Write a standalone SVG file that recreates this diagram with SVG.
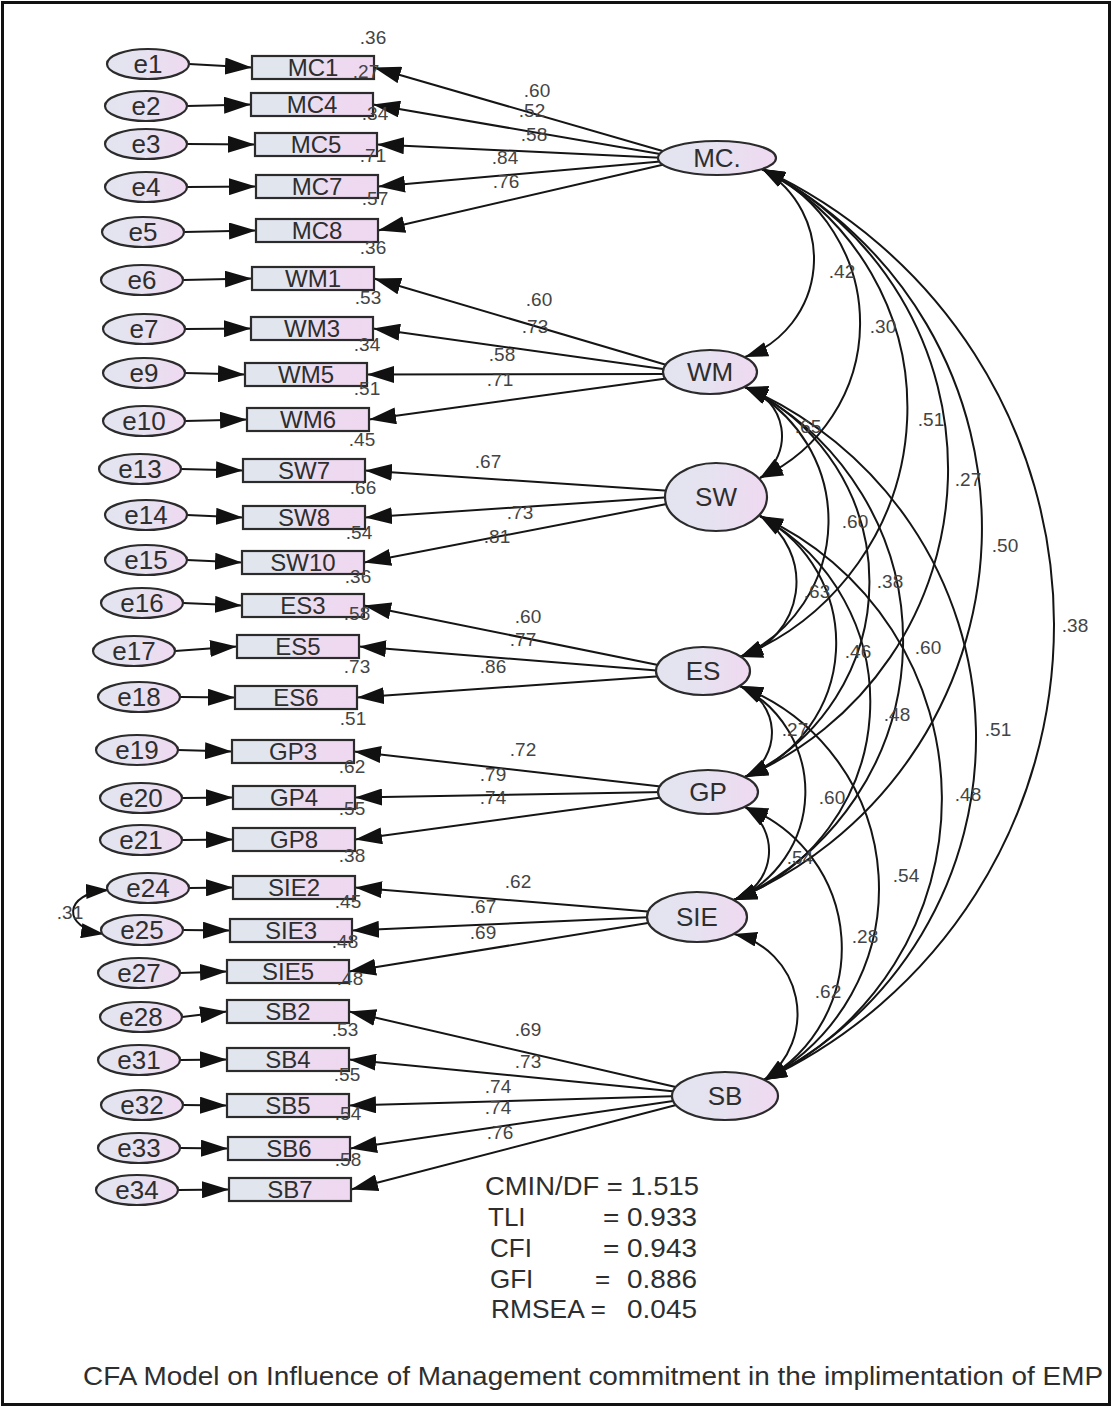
<svg xmlns="http://www.w3.org/2000/svg" width="1114" height="1408" viewBox="0 0 1114 1408">
<defs>
<linearGradient id="gR" x1="0" y1="0" x2="1" y2="0">
<stop offset="0" stop-color="#e1e5ee"/><stop offset="0.35" stop-color="#e1e5ee"/><stop offset="0.6" stop-color="#eddaf0"/><stop offset="1" stop-color="#efd8f1"/>
</linearGradient>
<linearGradient id="gE" x1="0" y1="0" x2="1" y2="0">
<stop offset="0" stop-color="#e3e4f0"/><stop offset="0.45" stop-color="#e6e2f0"/><stop offset="1" stop-color="#efd9f1"/>
</linearGradient>
<marker id="ah" markerUnits="userSpaceOnUse" markerWidth="27" markerHeight="17" refX="27" refY="8.5" orient="auto-start-reverse" viewBox="0 0 27 17">
<path d="M0,0 L27,8.5 L0,17 Z" fill="#111"/>
</marker>
<marker id="ahc" markerUnits="userSpaceOnUse" markerWidth="23" markerHeight="15" refX="23" refY="7.5" orient="auto-start-reverse" viewBox="0 0 23 15">
<path d="M0,0 L23,7.5 L0,15 Z" fill="#111"/>
</marker>
<style>
.obs{fill:url(#gR);stroke:#2b2b2b;stroke-width:2.2}
.ell{fill:url(#gE);stroke:#2b2b2b;stroke-width:2.2}
.ln{stroke:#151515;stroke-width:2;fill:none;marker-end:url(#ah)}
.cov{stroke:#151515;stroke-width:2;fill:none;marker-start:url(#ahc);marker-end:url(#ahc)}
text{font-family:"Liberation Sans",Arial,sans-serif;fill:#333}
.to{font-size:24px;text-anchor:middle;fill:#2e2e2e}
.te{font-size:26px;text-anchor:middle;fill:#2e2e2e}
.tl{font-size:26px;text-anchor:middle;fill:#2e2e2e}
.n{font-size:19px;text-anchor:middle;fill:#444}
.st{font-size:26px;fill:#2e2e2e}
.ti{font-size:25px;fill:#2e2e2e}
</style>
</defs>
<rect x="0" y="0" width="1114" height="1408" fill="#fff"/>
<rect x="2.5" y="2.5" width="1107" height="1402" fill="none" stroke="#111" stroke-width="3"/>

<g id="connectors">
<line class="ln" x1="189" y1="64" x2="252" y2="67.5"/>
<line class="ln" x1="187" y1="106" x2="251" y2="104.5"/>
<line class="ln" x1="187" y1="144" x2="255" y2="144.5"/>
<line class="ln" x1="187" y1="187" x2="256" y2="186.5"/>
<line class="ln" x1="184" y1="232" x2="256" y2="230.5"/>
<line class="ln" x1="183" y1="280" x2="252" y2="278.5"/>
<line class="ln" x1="185" y1="329" x2="251" y2="328.5"/>
<line class="ln" x1="185" y1="373" x2="245" y2="374.5"/>
<line class="ln" x1="185" y1="421" x2="247" y2="419.5"/>
<line class="ln" x1="181" y1="469" x2="243" y2="470.5"/>
<line class="ln" x1="187" y1="515" x2="243" y2="517.5"/>
<line class="ln" x1="187" y1="560" x2="242" y2="562.5"/>
<line class="ln" x1="183" y1="603" x2="242" y2="605.5"/>
<line class="ln" x1="175" y1="651" x2="237" y2="646.5"/>
<line class="ln" x1="180" y1="697" x2="235" y2="697.5"/>
<line class="ln" x1="178" y1="750" x2="232" y2="751.5"/>
<line class="ln" x1="182" y1="798" x2="233" y2="797.5"/>
<line class="ln" x1="182" y1="840" x2="233" y2="839.5"/>
<line class="ln" x1="189" y1="888" x2="233" y2="887.5"/>
<line class="ln" x1="183" y1="930" x2="230" y2="930.5"/>
<line class="ln" x1="180" y1="973" x2="227" y2="971.5"/>
<line class="ln" x1="182" y1="1017" x2="227" y2="1011.5"/>
<line class="ln" x1="180" y1="1060" x2="227" y2="1059.5"/>
<line class="ln" x1="183" y1="1105" x2="227" y2="1105.5"/>
<line class="ln" x1="180" y1="1148" x2="228" y2="1148.5"/>
<line class="ln" x1="178" y1="1190" x2="229" y2="1189.5"/>
<line class="ln" x1="666" y1="152" x2="374" y2="67.5"/>
<line class="ln" x1="666" y1="155" x2="373" y2="104.5"/>
<line class="ln" x1="666" y1="158" x2="377" y2="144.5"/>
<line class="ln" x1="666" y1="161" x2="378" y2="186.5"/>
<line class="ln" x1="666" y1="164" x2="378" y2="230.5"/>
<line class="ln" x1="670" y1="366" x2="374" y2="278.5"/>
<line class="ln" x1="670" y1="370" x2="373" y2="328.5"/>
<line class="ln" x1="670" y1="374" x2="367" y2="374.5"/>
<line class="ln" x1="670" y1="378" x2="369" y2="419.5"/>
<line class="ln" x1="672" y1="491" x2="365" y2="470.5"/>
<line class="ln" x1="672" y1="497" x2="365" y2="517.5"/>
<line class="ln" x1="672" y1="503" x2="364" y2="562.5"/>
<line class="ln" x1="663" y1="666" x2="364" y2="605.5"/>
<line class="ln" x1="663" y1="671" x2="359" y2="646.5"/>
<line class="ln" x1="663" y1="676" x2="357" y2="697.5"/>
<line class="ln" x1="665" y1="787" x2="354" y2="751.5"/>
<line class="ln" x1="665" y1="792" x2="355" y2="797.5"/>
<line class="ln" x1="665" y1="797" x2="355" y2="839.5"/>
<line class="ln" x1="654" y1="912" x2="355" y2="887.5"/>
<line class="ln" x1="654" y1="917" x2="352" y2="930.5"/>
<line class="ln" x1="654" y1="922" x2="349" y2="971.5"/>
<line class="ln" x1="680" y1="1088" x2="349" y2="1011.5"/>
<line class="ln" x1="680" y1="1092" x2="349" y2="1059.5"/>
<line class="ln" x1="680" y1="1096" x2="349" y2="1105.5"/>
<line class="ln" x1="680" y1="1100" x2="350" y2="1148.5"/>
<line class="ln" x1="680" y1="1104" x2="351" y2="1189.5"/>
<path class="cov" d="M762,169 A104,104 0 0 1 745,357"/>
<path class="cov" d="M762,169 A170,170 0 0 1 760,478"/>
<path class="cov" d="M762,169 A269,269 0 0 1 740,657"/>
<path class="cov" d="M762,169 A335,335 0 0 1 745,777"/>
<path class="cov" d="M762,169 A403,403 0 0 1 734,900"/>
<path class="cov" d="M762,169 A502,502 0 0 1 764,1080"/>
<path class="cov" d="M745,387 A51,51 0 0 1 760,478"/>
<path class="cov" d="M745,387 A149,149 0 0 1 740,657"/>
<path class="cov" d="M745,387 A215,215 0 0 1 745,777"/>
<path class="cov" d="M745,387 A283,283 0 0 1 734,900"/>
<path class="cov" d="M745,387 A382,382 0 0 1 764,1080"/>
<path class="cov" d="M760,516 A78,78 0 0 1 740,657"/>
<path class="cov" d="M760,516 A144,144 0 0 1 745,777"/>
<path class="cov" d="M760,516 A212,212 0 0 1 734,900"/>
<path class="cov" d="M760,516 A311,311 0 0 1 764,1080"/>
<path class="cov" d="M740,686 A50,50 0 0 1 745,777"/>
<path class="cov" d="M740,686 A118,118 0 0 1 734,900"/>
<path class="cov" d="M740,686 A217,217 0 0 1 764,1080"/>
<path class="cov" d="M745,807 A52,52 0 0 1 734,900"/>
<path class="cov" d="M745,807 A151,151 0 0 1 764,1080"/>
<path class="cov" d="M734,934 A82,82 0 0 1 764,1080"/>
<path class="cov" d="M109,890 C62,893 62,928 104,934"/>
</g>

<g id="e1"><ellipse class="ell" cx="148" cy="64" rx="41" ry="15"/><text class="te" x="148" y="73">e1</text></g>
<g id="e2"><ellipse class="ell" cx="146" cy="106" rx="41" ry="15"/><text class="te" x="146" y="115">e2</text></g>
<g id="e3"><ellipse class="ell" cx="146" cy="144" rx="41" ry="15"/><text class="te" x="146" y="153">e3</text></g>
<g id="e4"><ellipse class="ell" cx="146" cy="187" rx="41" ry="15"/><text class="te" x="146" y="196">e4</text></g>
<g id="e5"><ellipse class="ell" cx="143" cy="232" rx="41" ry="15"/><text class="te" x="143" y="241">e5</text></g>
<g id="e6"><ellipse class="ell" cx="142" cy="280" rx="41" ry="15"/><text class="te" x="142" y="289">e6</text></g>
<g id="e7"><ellipse class="ell" cx="144" cy="329" rx="41" ry="15"/><text class="te" x="144" y="338">e7</text></g>
<g id="e9"><ellipse class="ell" cx="144" cy="373" rx="41" ry="15"/><text class="te" x="144" y="382">e9</text></g>
<g id="e10"><ellipse class="ell" cx="144" cy="421" rx="41" ry="15"/><text class="te" x="144" y="430">e10</text></g>
<g id="e13"><ellipse class="ell" cx="140" cy="469" rx="41" ry="15"/><text class="te" x="140" y="478">e13</text></g>
<g id="e14"><ellipse class="ell" cx="146" cy="515" rx="41" ry="15"/><text class="te" x="146" y="524">e14</text></g>
<g id="e15"><ellipse class="ell" cx="146" cy="560" rx="41" ry="15"/><text class="te" x="146" y="569">e15</text></g>
<g id="e16"><ellipse class="ell" cx="142" cy="603" rx="41" ry="15"/><text class="te" x="142" y="612">e16</text></g>
<g id="e17"><ellipse class="ell" cx="134" cy="651" rx="41" ry="15"/><text class="te" x="134" y="660">e17</text></g>
<g id="e18"><ellipse class="ell" cx="139" cy="697" rx="41" ry="15"/><text class="te" x="139" y="706">e18</text></g>
<g id="e19"><ellipse class="ell" cx="137" cy="750" rx="41" ry="15"/><text class="te" x="137" y="759">e19</text></g>
<g id="e20"><ellipse class="ell" cx="141" cy="798" rx="41" ry="15"/><text class="te" x="141" y="807">e20</text></g>
<g id="e21"><ellipse class="ell" cx="141" cy="840" rx="41" ry="15"/><text class="te" x="141" y="849">e21</text></g>
<g id="e24"><ellipse class="ell" cx="148" cy="888" rx="41" ry="15"/><text class="te" x="148" y="897">e24</text></g>
<g id="e25"><ellipse class="ell" cx="142" cy="930" rx="41" ry="15"/><text class="te" x="142" y="939">e25</text></g>
<g id="e27"><ellipse class="ell" cx="139" cy="973" rx="41" ry="15"/><text class="te" x="139" y="982">e27</text></g>
<g id="e28"><ellipse class="ell" cx="141" cy="1017" rx="41" ry="15"/><text class="te" x="141" y="1026">e28</text></g>
<g id="e31"><ellipse class="ell" cx="139" cy="1060" rx="41" ry="15"/><text class="te" x="139" y="1069">e31</text></g>
<g id="e32"><ellipse class="ell" cx="142" cy="1105" rx="41" ry="15"/><text class="te" x="142" y="1114">e32</text></g>
<g id="e33"><ellipse class="ell" cx="139" cy="1148" rx="41" ry="15"/><text class="te" x="139" y="1157">e33</text></g>
<g id="e34"><ellipse class="ell" cx="137" cy="1190" rx="41" ry="15"/><text class="te" x="137" y="1199">e34</text></g>

<g id="MC1"><rect class="obs" x="252" y="56" width="122" height="23"/><text class="to" x="313" y="76">MC1</text></g>
<g id="MC4"><rect class="obs" x="251" y="93" width="122" height="23"/><text class="to" x="312" y="113">MC4</text></g>
<g id="MC5"><rect class="obs" x="255" y="133" width="122" height="23"/><text class="to" x="316" y="153">MC5</text></g>
<g id="MC7"><rect class="obs" x="256" y="175" width="122" height="23"/><text class="to" x="317" y="195">MC7</text></g>
<g id="MC8"><rect class="obs" x="256" y="219" width="122" height="23"/><text class="to" x="317" y="239">MC8</text></g>
<g id="WM1"><rect class="obs" x="252" y="267" width="122" height="23"/><text class="to" x="313" y="287">WM1</text></g>
<g id="WM3"><rect class="obs" x="251" y="317" width="122" height="23"/><text class="to" x="312" y="337">WM3</text></g>
<g id="WM5"><rect class="obs" x="245" y="363" width="122" height="23"/><text class="to" x="306" y="383">WM5</text></g>
<g id="WM6"><rect class="obs" x="247" y="408" width="122" height="23"/><text class="to" x="308" y="428">WM6</text></g>
<g id="SW7"><rect class="obs" x="243" y="459" width="122" height="23"/><text class="to" x="304" y="479">SW7</text></g>
<g id="SW8"><rect class="obs" x="243" y="506" width="122" height="23"/><text class="to" x="304" y="526">SW8</text></g>
<g id="SW10"><rect class="obs" x="242" y="551" width="122" height="23"/><text class="to" x="303" y="571">SW10</text></g>
<g id="ES3"><rect class="obs" x="242" y="594" width="122" height="23"/><text class="to" x="303" y="614">ES3</text></g>
<g id="ES5"><rect class="obs" x="237" y="635" width="122" height="23"/><text class="to" x="298" y="655">ES5</text></g>
<g id="ES6"><rect class="obs" x="235" y="686" width="122" height="23"/><text class="to" x="296" y="706">ES6</text></g>
<g id="GP3"><rect class="obs" x="232" y="740" width="122" height="23"/><text class="to" x="293" y="760">GP3</text></g>
<g id="GP4"><rect class="obs" x="233" y="786" width="122" height="23"/><text class="to" x="294" y="806">GP4</text></g>
<g id="GP8"><rect class="obs" x="233" y="828" width="122" height="23"/><text class="to" x="294" y="848">GP8</text></g>
<g id="SIE2"><rect class="obs" x="233" y="876" width="122" height="23"/><text class="to" x="294" y="896">SIE2</text></g>
<g id="SIE3"><rect class="obs" x="230" y="919" width="122" height="23"/><text class="to" x="291" y="939">SIE3</text></g>
<g id="SIE5"><rect class="obs" x="227" y="960" width="122" height="23"/><text class="to" x="288" y="980">SIE5</text></g>
<g id="SB2"><rect class="obs" x="227" y="1000" width="122" height="23"/><text class="to" x="288" y="1020">SB2</text></g>
<g id="SB4"><rect class="obs" x="227" y="1048" width="122" height="23"/><text class="to" x="288" y="1068">SB4</text></g>
<g id="SB5"><rect class="obs" x="227" y="1094" width="122" height="23"/><text class="to" x="288" y="1114">SB5</text></g>
<g id="SB6"><rect class="obs" x="228" y="1137" width="122" height="23"/><text class="to" x="289" y="1157">SB6</text></g>
<g id="SB7"><rect class="obs" x="229" y="1178" width="122" height="23"/><text class="to" x="290" y="1198">SB7</text></g>

<g id="MC"><ellipse class="ell" cx="717" cy="158" rx="59" ry="17"/><text class="tl" x="717" y="167">MC.</text></g>
<g id="WM"><ellipse class="ell" cx="710" cy="372" rx="47" ry="22"/><text class="tl" x="710" y="381">WM</text></g>
<g id="SW"><ellipse class="ell" cx="716" cy="497" rx="51" ry="34"/><text class="tl" x="716" y="506">SW</text></g>
<g id="ES"><ellipse class="ell" cx="703" cy="671" rx="47" ry="24"/><text class="tl" x="703" y="680">ES</text></g>
<g id="GP"><ellipse class="ell" cx="708" cy="792" rx="50" ry="22"/><text class="tl" x="708" y="801">GP</text></g>
<g id="SIE"><ellipse class="ell" cx="697" cy="917" rx="50" ry="25"/><text class="tl" x="697" y="926">SIE</text></g>
<g id="SB"><ellipse class="ell" cx="725" cy="1096" rx="53" ry="24"/><text class="tl" x="725" y="1105">SB</text></g>

<g id="r2-labels">
<text class="n" x="373" y="44">.36</text>
<text class="n" x="366" y="78">.27</text>
<text class="n" x="375" y="120">.34</text>
<text class="n" x="373" y="162">.71</text>
<text class="n" x="375" y="205">.57</text>
<text class="n" x="373" y="254">.36</text>
<text class="n" x="368" y="304">.53</text>
<text class="n" x="367" y="351">.34</text>
<text class="n" x="367" y="395">.51</text>
<text class="n" x="362" y="446">.45</text>
<text class="n" x="363" y="494">.66</text>
<text class="n" x="359" y="539">.54</text>
<text class="n" x="358" y="583">.36</text>
<text class="n" x="357" y="620">.58</text>
<text class="n" x="357" y="673">.73</text>
<text class="n" x="353" y="725">.51</text>
<text class="n" x="352" y="773">.62</text>
<text class="n" x="352" y="815">.55</text>
<text class="n" x="352" y="862">.38</text>
<text class="n" x="348" y="908">.45</text>
<text class="n" x="345" y="948">.48</text>
<text class="n" x="350" y="985">.48</text>
<text class="n" x="345" y="1036">.53</text>
<text class="n" x="347" y="1081">.55</text>
<text class="n" x="348" y="1120">.54</text>
<text class="n" x="348" y="1166">.58</text>
<text class="n" x="70" y="919">.31</text>
</g>

<g id="loading-labels">
<text class="n" x="537" y="97">.60</text>
<text class="n" x="532" y="117">.52</text>
<text class="n" x="534" y="141">.58</text>
<text class="n" x="505" y="164">.84</text>
<text class="n" x="506" y="188">.76</text>
<text class="n" x="539" y="306">.60</text>
<text class="n" x="535" y="333">.73</text>
<text class="n" x="502" y="361">.58</text>
<text class="n" x="500" y="386">.71</text>
<text class="n" x="488" y="468">.67</text>
<text class="n" x="520" y="519">.73</text>
<text class="n" x="497" y="543">.81</text>
<text class="n" x="528" y="623">.60</text>
<text class="n" x="523" y="646">.77</text>
<text class="n" x="493" y="673">.86</text>
<text class="n" x="523" y="756">.72</text>
<text class="n" x="493" y="781">.79</text>
<text class="n" x="493" y="804">.74</text>
<text class="n" x="518" y="888">.62</text>
<text class="n" x="483" y="913">.67</text>
<text class="n" x="483" y="939">.69</text>
<text class="n" x="528" y="1036">.69</text>
<text class="n" x="528" y="1068">.73</text>
<text class="n" x="498" y="1093">.74</text>
<text class="n" x="498" y="1114">.74</text>
<text class="n" x="500" y="1139">.76</text>
</g>

<g id="covariance-labels">
<text class="n" x="842" y="278">.42</text>
<text class="n" x="883" y="333">.30</text>
<text class="n" x="931" y="426">.51</text>
<text class="n" x="968" y="486">.27</text>
<text class="n" x="1005" y="552">.50</text>
<text class="n" x="1075" y="632">.38</text>
<text class="n" x="808" y="433">.65</text>
<text class="n" x="855" y="528">.60</text>
<text class="n" x="890" y="588">.38</text>
<text class="n" x="928" y="654">.60</text>
<text class="n" x="998" y="736">.51</text>
<text class="n" x="817" y="598">.63</text>
<text class="n" x="858" y="658">.46</text>
<text class="n" x="897" y="721">.48</text>
<text class="n" x="968" y="801">.48</text>
<text class="n" x="795" y="736">.27</text>
<text class="n" x="832" y="804">.60</text>
<text class="n" x="906" y="882">.54</text>
<text class="n" x="800" y="864">.54</text>
<text class="n" x="865" y="943">.28</text>
<text class="n" x="828" y="998">.62</text>
</g>

<g id="fit-indices">
<text class="st" x="485" y="1195" textLength="214" lengthAdjust="spacingAndGlyphs">CMIN/DF = 1.515</text>
<text class="st" x="488" y="1226">TLI</text>
<text class="st" x="603" y="1226" textLength="94" lengthAdjust="spacingAndGlyphs">= 0.933</text>
<text class="st" x="490" y="1257">CFI</text>
<text class="st" x="603" y="1257" textLength="94" lengthAdjust="spacingAndGlyphs">= 0.943</text>
<text class="st" x="490" y="1288">GFI</text>
<text class="st" x="595" y="1288">=</text>
<text class="st" x="627" y="1288" textLength="70" lengthAdjust="spacingAndGlyphs">0.886</text>
<text class="st" x="491" y="1318" textLength="115" lengthAdjust="spacingAndGlyphs">RMSEA =</text>
<text class="st" x="627" y="1318" textLength="70" lengthAdjust="spacingAndGlyphs">0.045</text>
</g>

<g id="title">
<text class="ti" x="83" y="1385" textLength="1020" lengthAdjust="spacingAndGlyphs">CFA  Model on Influence of Management commitment in the implimentation of EMP</text>
</g>
</svg>
